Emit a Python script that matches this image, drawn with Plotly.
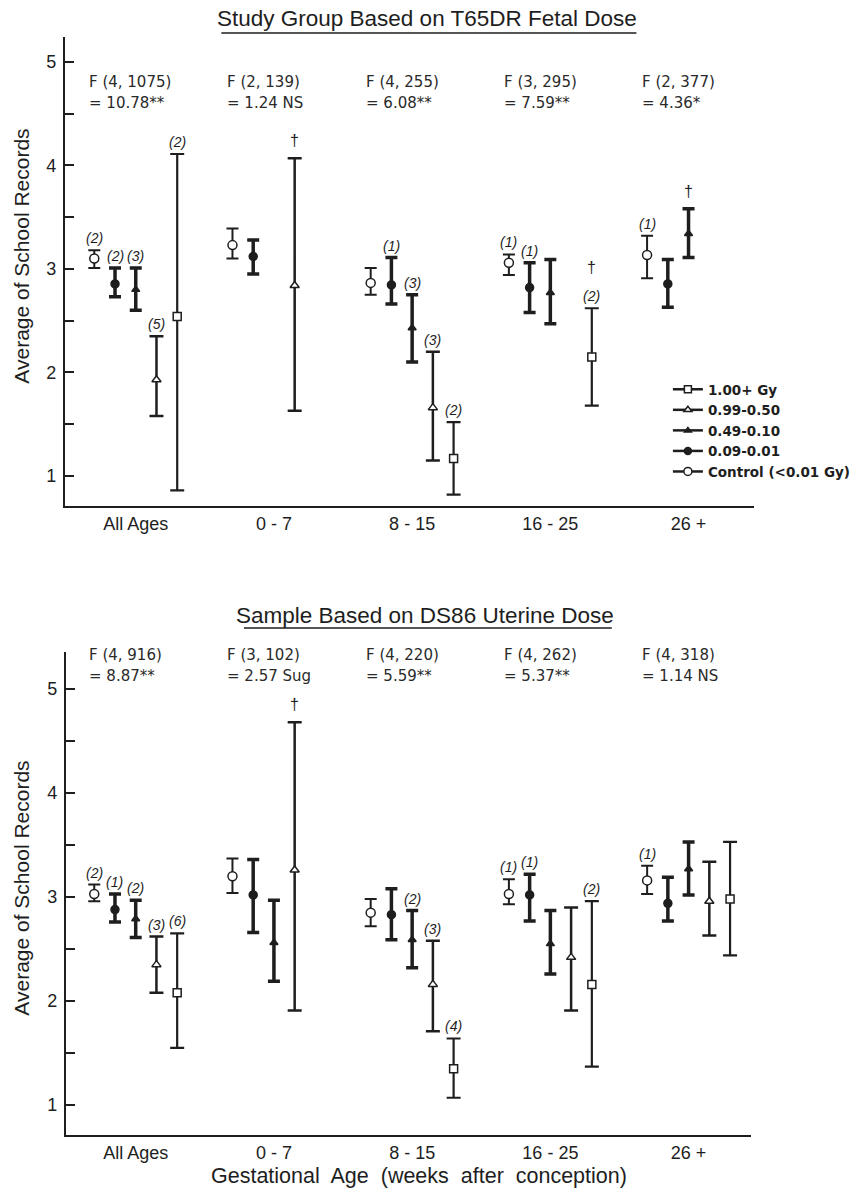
import plotly.graph_objects as go

# ---------------- data ----------------
GROUPS = ["All Ages", "0 - 7", "8 - 15", "16 - 25", "26 +"]
DOSES = ["Control (<0.01 Gy)", "0.09-0.01", "0.49-0.10", "0.99-0.50", "1.00+ Gy"]

# Top panel: Study Group Based on T65DR Fetal Dose
T_CTRL_MEAN = [3.10, 3.23, 2.865, 3.06, 3.135]
T_CTRL_HI = [3.18, 3.39, 3.01, 3.14, 3.32]
T_CTRL_LO = [3.01, 3.10, 2.75, 2.94, 2.91]
T_CTRL_N = ["(2)", None, None, "(1)", "(1)"]

T_D009_MEAN = [2.855, 3.12, 2.845, 2.82, 2.855]
T_D009_HI = [3.01, 3.28, 3.11, 3.06, 3.09]
T_D009_LO = [2.73, 2.95, 2.66, 2.58, 2.63]
T_D009_N = ["(2)", None, "(1)", "(1)", None]

T_D049_MEAN = [2.80, None, 2.43, 2.77, 3.34]
T_D049_HI = [3.01, None, 2.75, 3.09, 3.58]
T_D049_LO = [2.60, None, 2.10, 2.47, 3.11]
T_D049_N = ["(3)", None, "(3)", None, None]
T_D049_DAG = [False, False, False, False, True]

T_D099_MEAN = [1.93, 2.84, 1.66, None, None]
T_D099_HI = [2.35, 4.07, 2.20, None, None]
T_D099_LO = [1.58, 1.63, 1.15, None, None]
T_D099_N = ["(5)", None, "(3)", None, None]
T_D099_DAG = [False, True, False, False, False]

T_D100_MEAN = [2.54, None, 1.17, 2.15, None]
T_D100_HI = [4.11, None, 1.52, 2.62, None]
T_D100_LO = [0.86, None, 0.82, 1.68, None]
T_D100_N = ["(2)", None, "(2)", "(2)", None]
T_D100_DAG = [False, False, False, True, False]

T_F1 = ["F (4, 1075)", "F (2, 139)", "F (4, 255)", "F (3, 295)", "F (2, 377)"]
T_F2 = ["= 10.78**", "= 1.24 NS", "= 6.08**", "= 7.59**", "= 4.36*"]

# Bottom panel: Sample Based on DS86 Uterine Dose
B_CTRL_MEAN = [3.03, 3.20, 2.85, 3.03, 3.16]
B_CTRL_HI = [3.12, 3.37, 2.98, 3.17, 3.30]
B_CTRL_LO = [2.96, 3.04, 2.72, 2.93, 3.03]
B_CTRL_N = ["(2)", None, None, "(1)", "(1)"]

B_D009_MEAN = [2.88, 3.02, 2.83, 3.02, 2.94]
B_D009_HI = [3.03, 3.36, 3.08, 3.22, 3.19]
B_D009_LO = [2.76, 2.66, 2.59, 2.77, 2.77]
B_D009_N = ["(1)", None, None, "(1)", None]

B_D049_MEAN = [2.79, 2.56, 2.59, 2.55, 3.27]
B_D049_HI = [2.97, 2.97, 2.87, 2.87, 3.53]
B_D049_LO = [2.61, 2.19, 2.32, 2.26, 3.02]
B_D049_N = ["(2)", None, "(2)", None, None]
B_D049_DAG = [False, False, False, False, False]

B_D099_MEAN = [2.35, 3.26, 2.16, 2.42, 2.96]
B_D099_HI = [2.62, 4.68, 2.58, 2.90, 3.34]
B_D099_LO = [2.08, 1.91, 1.71, 1.91, 2.63]
B_D099_N = ["(3)", None, "(3)", None, None]
B_D099_DAG = [False, True, False, False, False]

B_D100_MEAN = [2.08, None, 1.35, 2.16, 2.98]
B_D100_HI = [2.65, None, 1.64, 2.96, 3.53]
B_D100_LO = [1.55, None, 1.07, 1.37, 2.44]
B_D100_N = ["(6)", None, "(4)", "(2)", None]
B_D100_DAG = [False, False, False, False, False]

B_F1 = ["F (4, 916)", "F (3, 102)", "F (4, 220)", "F (4, 262)", "F (4, 318)"]
B_F2 = ["= 8.87**", "= 2.57 Sug", "= 5.59**", "= 5.37**", "= 1.14 NS"]

NO_DAG = [False] * 5

TOP = [
    (T_CTRL_MEAN, T_CTRL_HI, T_CTRL_LO, T_CTRL_N, NO_DAG),
    (T_D009_MEAN, T_D009_HI, T_D009_LO, T_D009_N, NO_DAG),
    (T_D049_MEAN, T_D049_HI, T_D049_LO, T_D049_N, T_D049_DAG),
    (T_D099_MEAN, T_D099_HI, T_D099_LO, T_D099_N, T_D099_DAG),
    (T_D100_MEAN, T_D100_HI, T_D100_LO, T_D100_N, T_D100_DAG),
]
BOT = [
    (B_CTRL_MEAN, B_CTRL_HI, B_CTRL_LO, B_CTRL_N, NO_DAG),
    (B_D009_MEAN, B_D009_HI, B_D009_LO, B_D009_N, NO_DAG),
    (B_D049_MEAN, B_D049_HI, B_D049_LO, B_D049_N, B_D049_DAG),
    (B_D099_MEAN, B_D099_HI, B_D099_LO, B_D099_N, B_D099_DAG),
    (B_D100_MEAN, B_D100_HI, B_D100_LO, B_D100_N, B_D100_DAG),
]

# ---------------- styles ----------------
INK = "#1e1e1e"
SANS = "Liberation Sans, Arial, sans-serif"
WIDE = "DejaVu Sans, sans-serif"
SLOT = [-0.30, -0.15, 0.0, 0.15, 0.30]
SYMBOL = ["circle", "circle", "triangle-up", "triangle-up", "square"]
FILL = ["white", INK, INK, "white", "white"]
MSIZE = [9, 8, 7, 8, 8]
BARW = [2, 3.5, 3.5, 2.5, 2.2]
CAPW = [6, 6, 6, 7, 7]

W, H = 856, 1191


def px_x(p):
    return p / W


def px_y(p):
    return 1 - p / H


fig = go.Figure()
annotations = []


def add_panel(data, xa, ya, f1, f2, fy1, fy2):
    xs_base = list(range(len(GROUPS)))
    for k, (mean, hi, lo, nl, dag) in enumerate(data):
        xs = [g + SLOT[k] for g in xs_base]
        plus = [None if m is None else h - m for m, h in zip(mean, hi)]
        minus = [None if m is None else m - l for m, l in zip(mean, lo)]
        fig.add_trace(go.Scatter(
            x=xs, y=mean, mode="markers", xaxis=xa, yaxis=ya, showlegend=False,
            marker=dict(symbol=SYMBOL[k], size=MSIZE[k], color=FILL[k],
                        line=dict(color=INK, width=1.5)),
            error_y=dict(type="data", symmetric=False, array=plus, arrayminus=minus,
                         color=INK, thickness=BARW[k], width=CAPW[k]),
            cliponaxis=False,
        ))
        for g in xs_base:
            if mean[g] is None:
                continue
            if nl[g]:
                annotations.append(dict(
                    x=xs[g], y=hi[g], xref=xa, yref=ya, text="<i>%s</i>" % nl[g],
                    showarrow=False, xanchor="center", yanchor="bottom", yshift=2,
                    font=dict(family=SANS, size=14, color=INK)))
            if dag[g]:
                annotations.append(dict(
                    x=xs[g], y=hi[g], xref=xa, yref=ya, text="†",
                    showarrow=False, xanchor="center", yanchor="bottom",
                    yshift=30 if nl[g] else 7,
                    font=dict(family=SANS, size=16, color=INK)))
    for g in xs_base:
        for txt, yy in ((f1[g], fy1), (f2[g], fy2)):
            annotations.append(dict(
                x=g + SLOT[0], y=yy, xref=xa, yref=ya, text=txt, showarrow=False,
                xanchor="left", yanchor="middle", xshift=-7,
                font=dict(family=WIDE, size=15, color="#2a2a2a")))


add_panel(TOP, "x", "y", T_F1, T_F2, 4.81, 4.60)
add_panel(BOT, "x2", "y2", B_F1, B_F2, 5.33, 5.125)

# legend entries (1.00+ first)
for k in reversed(range(len(DOSES))):
    fig.add_trace(go.Scatter(
        x=[None], y=[None], mode="lines+markers", name=DOSES[k],
        marker=dict(symbol=SYMBOL[k], size=MSIZE[k] - 1, color=FILL[k],
                    line=dict(color=INK, width=1.5)),
        line=dict(color=INK, width=2.5), showlegend=True))

xcommon = dict(tickvals=list(range(len(GROUPS))), ticktext=GROUPS, showline=True,
               linecolor=INK, linewidth=2, ticks="", showgrid=False, zeroline=False,
               tickfont=dict(family=SANS, size=18, color=INK), ticklabelstandoff=0)
ycommon = dict(tickvals=[1, 2, 3, 4, 5], showline=True, linecolor=INK, linewidth=2,
               ticks="inside", ticklen=9, tickwidth=2, tickcolor=INK,
               minor=dict(ticks="inside", ticklen=9, tickwidth=2, tickcolor=INK, dtick=0.5,
                          showgrid=False),
               showgrid=False, zeroline=False,
               tickfont=dict(family=SANS, size=18, color=INK), ticklabelstandoff=3)

fig.update_layout(
    width=W, height=H, margin=dict(l=0, r=0, t=0, b=0),
    paper_bgcolor="white", plot_bgcolor="white",
    xaxis=dict(domain=[px_x(66), px_x(767)], range=[-0.5125, 4.477], anchor="y", **xcommon),
    yaxis=dict(domain=[px_y(506), px_y(37)], range=[0.71, 5.24], anchor="x", **ycommon),
    xaxis2=dict(domain=[px_x(67), px_x(763)], range=[-0.505, 4.448], anchor="y2", **xcommon),
    yaxis2=dict(domain=[px_y(1135), px_y(652)], range=[0.712, 5.356], anchor="x2", **ycommon),
    legend=dict(x=px_x(679), y=px_y(374), xanchor="left", yanchor="top",
                font=dict(family=WIDE, size=13.5, color=INK, weight="bold"),
                bgcolor="rgba(0,0,0,0)", itemclick=False, tracegroupgap=0),
    showlegend=True,
)

# titles, axis titles
annotations += [
    dict(x=px_x(434), y=px_y(18), xref="paper", yref="paper", showarrow=False,
         text="Study Group Based on T65DR Fetal Dose", xanchor="center", yanchor="middle",
         font=dict(family=SANS, size=22.5, color=INK)),
    dict(x=px_x(432), y=px_y(615), xref="paper", yref="paper", showarrow=False,
         text="Sample Based on DS86 Uterine Dose", xanchor="center", yanchor="middle",
         font=dict(family=SANS, size=22.5, color=INK)),
    dict(x=px_x(21), y=px_y(256), xref="paper", yref="paper", showarrow=False,
         text="Average of School Records", textangle=-90, xanchor="center", yanchor="middle",
         font=dict(family=SANS, size=21, color=INK)),
    dict(x=px_x(21), y=px_y(888), xref="paper", yref="paper", showarrow=False,
         text="Average of School Records", textangle=-90, xanchor="center", yanchor="middle",
         font=dict(family=SANS, size=21, color=INK)),
    dict(x=px_x(426), y=px_y(1176), xref="paper", yref="paper", showarrow=False,
         text="Gestational&nbsp; Age&nbsp; (weeks&nbsp; after&nbsp; conception)",
         xanchor="center", yanchor="middle",
         font=dict(family=SANS, size=21.5, color=INK)),
]
fig.update_layout(annotations=annotations)

fig.update_layout(shapes=[
    dict(type="line", xref="paper", yref="paper", x0=px_x(225), x1=px_x(647),
         y0=px_y(33), y1=px_y(33), line=dict(color=INK, width=1.5)),
    dict(type="line", xref="paper", yref="paper", x0=px_x(248), x1=px_x(622),
         y0=px_y(628), y1=px_y(628), line=dict(color=INK, width=1.5)),
])

fig.write_html("out.html", config={"displayModeBar": False},
               post_script="document.body.style.margin='0';document.body.style.overflow='hidden';")
